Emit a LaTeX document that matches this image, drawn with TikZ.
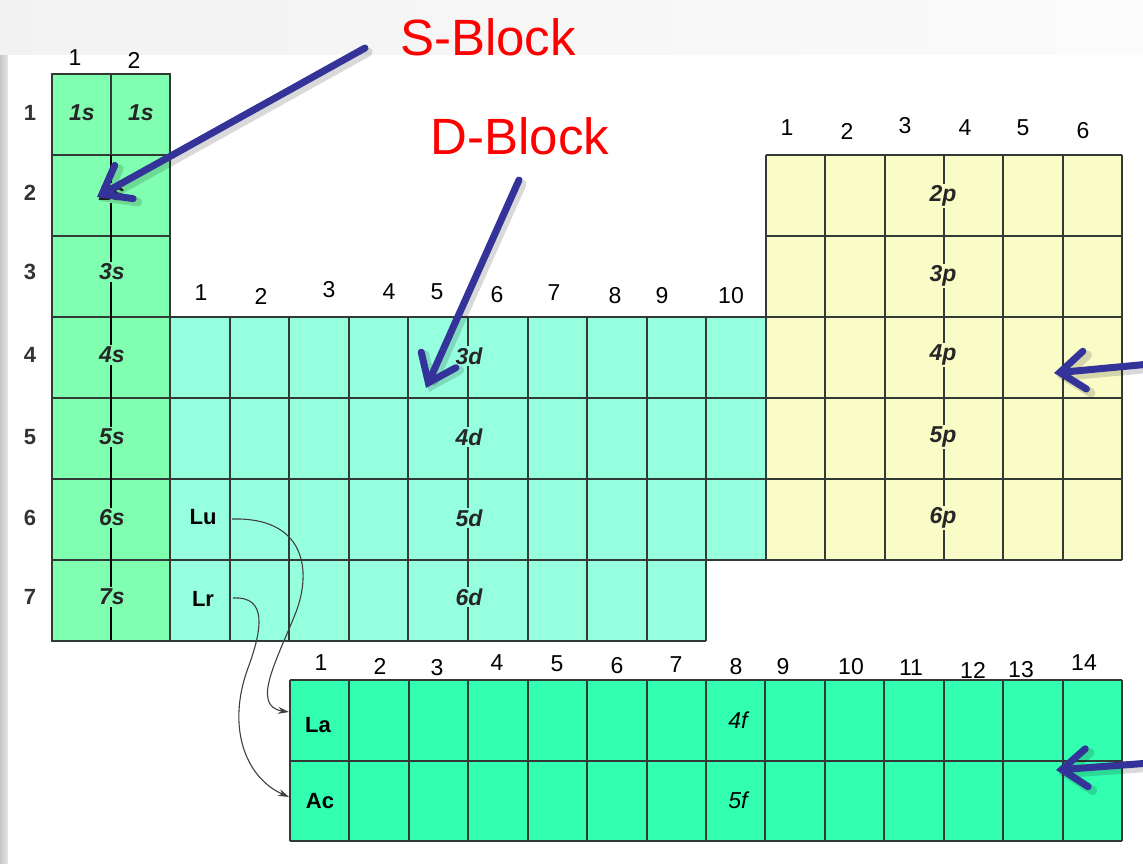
\documentclass[tikz,border=0pt]{standalone}
\usepackage{fontspec}
\setmainfont{Liberation Sans}
\usetikzlibrary{arrows.meta,calc}
\definecolor{sblk}{RGB}{128,255,176}
\definecolor{dblk}{RGB}{150,255,222}
\definecolor{pblk}{RGB}{250,252,200}
\definecolor{fblk}{RGB}{51,255,176}
\definecolor{gridc}{RGB}{50,58,54}
\definecolor{arrblue}{RGB}{51,51,153}
\begin{document}
\begin{tikzpicture}[x=1pt,y=-1pt,
  gridline/.style={draw=gridc, line width=2pt},
  hdr/.style={font=\fontsize{23}{23}\selectfont, text=black, inner sep=0pt},
  rowlab/.style={font=\fontsize{22}{22}\selectfont\bfseries, text=black!80, inner sep=0pt},
  orb/.style={font=\fontsize{23}{23}\selectfont\bfseries\itshape, text=black!85, inner sep=2pt},
  orbf/.style={font=\fontsize{23}{23}\selectfont\itshape, text=black, inner sep=2pt},
  elem/.style={font=\fontsize{22}{22}\selectfont\bfseries, text=black, inner sep=0pt},
  title/.style={font=\fontsize{51}{51}\selectfont, text=red, inner sep=0pt},
  bigarrow/.style={draw=arrblue, line width=7pt, line cap=round,
     -{Straight Barb[length=25pt,width=38pt,line cap=round]}},
  arrshadow/.style={draw=black, opacity=0.15, line width=9pt, line cap=round,
     -{Straight Barb[length=25pt,width=38pt,line cap=round]}},
  thinarrow/.style={draw=black!75, line width=1.1pt, -{Stealth[length=11pt,width=7pt]}}
]
\useasboundingbox (0,0) rectangle (1143,863);
% background
\shade[left color=gray!10, right color=gray!3] (0,0) rectangle (1143,55);
\shade[left color=gray!45, right color=gray!20] (0,55) rectangle (8,863);
\fill[white] (8,55) rectangle (1143,863);

% ---------- S block ----------
\fill[sblk] (52,74) rectangle (170,641);
\foreach \y in {155,236,317,398,479,560} \draw[gridline] (52,\y) -- (170,\y);
\draw[gridline] (111,74) -- (111,155);
\draw[black, line width=2.8pt] (111,155) -- (111,641);
\draw[gridline] (52,74) rectangle (170,641);

% ---------- D block ----------
\fill[dblk] (170,317) rectangle (766,560);
\fill[dblk] (170,560) rectangle (706,641);
\foreach \i in {0,...,9} \draw[gridline] ({170+59.6*\i},317) -- ({170+59.6*\i},641);
\draw[gridline] (766,317) -- (766,560);
\foreach \y in {317,398,479,560} \draw[gridline] (170,\y) -- (766,\y);
\draw[gridline] (170,641) -- (706,641);

% ---------- P block ----------
\fill[pblk] (766,155) rectangle (1122,560);
\foreach \i in {0,...,6} \draw[gridline] ({766+59.33*\i},155) -- ({766+59.33*\i},560);
\foreach \j in {0,...,5} \draw[gridline] (766,{155+81*\j}) -- (1122,{155+81*\j});

% ---------- F block ----------
\fill[fblk] (290,680) rectangle (1122,841);
\foreach \i in {0,...,14} \draw[gridline] ({290+59.43*\i},680) -- ({290+59.43*\i},841);
\foreach \y in {680,760.5,841} \draw[gridline] (290,\y) -- (1122,\y);

% ---------- row labels ----------
\foreach \r/\y in {1/113,2/193,3/272,4/355,5/437,6/518,7/597}
  \node[rowlab] (row\r) at (30,\y) {\r};

% ---------- column headers ----------
\node[hdr] (hs1) at (75,58) {1};
\node[hdr] (hs2) at (134,60) {2};
\foreach \n/\x/\y in {1/201/293,2/261/296,3/329/290,4/389/292,5/437/292,6/497/295,7/554/293,8/615/296,9/662/296,10/731/296}
  \node[hdr] (hd\n) at (\x,\y) {\n};
\foreach \n/\x/\y in {1/787/128,2/847/131,3/905/126,4/965/128,5/1023/128,6/1083/131}
  \node[hdr] (hp\n) at (\x,\y) {\n};
\foreach \n/\x/\y in {1/321/663,2/380/666,3/437/668,4/497/663,5/557/664,6/617/666,7/676/665,8/736/667,9/783/667,10/851/667,11/911/668,12/973/670,13/1021/670,14/1084/663}
  \node[hdr] (hf\n) at (\x,\y) {\n};

% ---------- orbital labels ----------
\node[orb] (s1a) at (82,113) {1s};
\node[orb] (s1b) at (141,113) {1s};
\foreach \n/\y in {2/193,3/272,4/355,5/437,6/518,7/597}
  \node[orb, fill=sblk] (s\n) at (112,\y) {\n s};
\foreach \n/\y in {3/356,4/437,5/518,6/597}
  \node[orb, fill=dblk] (d\n) at (469,\y) {\n d};
\foreach \n/\y in {2/196,3/276,4/355,5/437,6/518}
  \node[orb, fill=pblk] (p\n) at (943,\y) {\n p};
\node[orbf] (f4) at (738,720) {4f};
\node[orbf] (f5) at (738,800) {5f};

% ---------- element labels ----------
\node[elem] (Lu) at (203,517) {Lu};
\node[elem] (Lr) at (203,599) {Lr};
\node[elem] (La) at (318,725) {La};
\node[elem] (Ac) at (320,801) {Ac};

\coordinate (LuOut) at (232,519);
\coordinate (LrOut) at (233,598);
\coordinate (LaIn) at (289,712);
\coordinate (AcIn) at (289,797);
\draw[thinarrow] (LuOut) .. controls (305,517) and (312,570) .. (296,612)
   .. controls (278,658) and (250,706) .. (LaIn);
\draw[thinarrow] (LrOut) .. controls (268,596) and (262,630) .. (248,668)
   .. controls (226,728) and (246,778) .. (AcIn);

% ---------- block titles ----------
\node[title] (sblock) at (488,37) {S-Block};
\node[title] (dblock) at (520,136) {D-Block};

% ---------- blue arrows ----------
\coordinate (sTail) at (365,48);
\coordinate (sTip) at (97,197);
\coordinate (dTail) at (519,180);
\coordinate (dTip) at (426,388);
\coordinate (pTail) at (1150,364);
\coordinate (pTip) at (1054,373);
\coordinate (fTail) at (1150,763);
\coordinate (fTip) at (1056,770);
\foreach \a/\b in {sTail/sTip,dTail/dTip,pTail/pTip,fTail/fTip}{
  \draw[arrshadow] ($(\a)+(3,4)$) -- ($(\b)+(3,4)$);
}
\foreach \a/\b in {sTail/sTip,dTail/dTip,pTail/pTip,fTail/fTip}{
  \draw[bigarrow] (\a) -- (\b);
}
\end{tikzpicture}
\end{document}
